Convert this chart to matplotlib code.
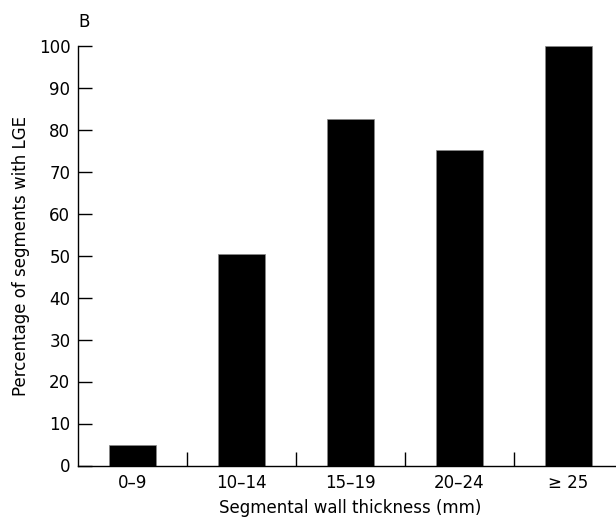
import numpy as np
import matplotlib.pyplot as plt

categories = ['0–9', '10–14', '15–19', '20–24', '≥ 25']
percent_lge = [5.0, 50.4, 82.6, 75.1, 100.0]
y_ticks = [0, 10, 20, 30, 40, 50, 60, 70, 80, 90, 100]

plt.rcParams['font.family'] = ['DejaVu Sans']

fig = plt.figure(figsize=(6.16, 5.21), dpi=100)
ax = fig.add_axes([78 / 616, 1 - 465.5 / 521, (623 - 78) / 616, (465.5 - 45.5) / 521])

x = np.arange(len(categories))
ax.bar(x, percent_lge, width=0.44, color='black', edgecolor='#888888', linewidth=0.5)

ax.set_xlim(-0.5, 4.5)
ax.set_ylim(0, 100)
ax.set_yticks(y_ticks)
ax.set_xticks(x)
ax.set_xticklabels(categories)
ax.set_xticks(x[:-1] + 0.5, minor=True)

ax.tick_params(axis='y', direction='in', length=10, width=1, pad=5.5, labelsize=12)
ax.tick_params(axis='x', which='major', length=0, pad=6, labelsize=12)
ax.tick_params(axis='x', which='minor', direction='in', length=10, width=1)

for side in ['top', 'right']:
    ax.spines[side].set_visible(False)
ax.spines['left'].set_linewidth(1)
ax.spines['bottom'].set_linewidth(1)

ax.set_xlabel('Segmental wall thickness (mm)', fontsize=12, labelpad=5)
ax.set_ylabel('Percentage of segments with LGE', fontsize=12, labelpad=6.5)
ax.text(0, 1.055, 'B', transform=ax.transAxes, fontsize=12, ha='left', va='center')

fig.savefig('out.png', dpi=100)
